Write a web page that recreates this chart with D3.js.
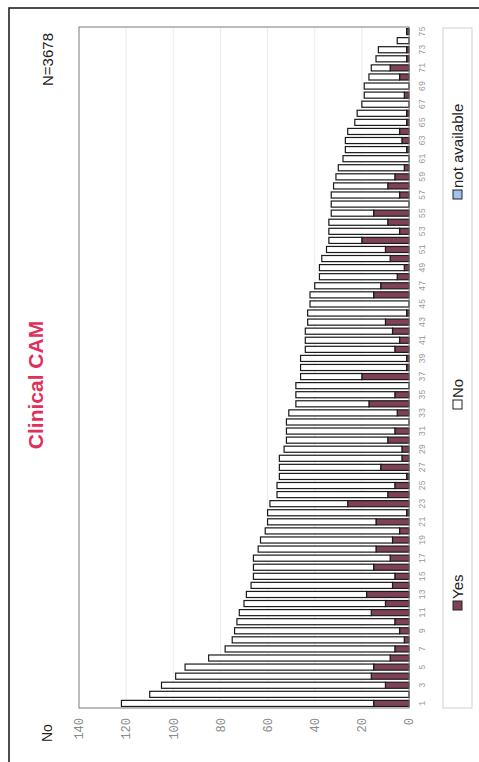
<!DOCTYPE html>
<html><head><meta charset="utf-8">
<script src="https://cdn.jsdelivr.net/npm/d3@7"></script>
<style>body{margin:0;background:#fff}svg{display:block}</style>
</head><body>
<script>
const categories = [1,2,3,4,5,6,7,8,9,10,11,12,13,14,15,16,17,18,19,20,21,22,23,24,25,26,27,28,29,30,31,32,33,34,35,36,37,38,39,40,41,42,43,44,45,46,47,48,49,50,51,52,53,54,55,56,57,58,59,60,61,62,63,64,65,66,67,68,69,70,71,72,73,74,75];
const yesValues = [15,0,10,16,15,8,6,2,4,6,16,10,18,7,6,15,8,14,7,4,14,1,26,9,6,1,12,3,3,9,6,0,5,17,6,0,20,1,1,6,4,7,10,1,0,15,12,5,2,8,10,20,4,9,15,0,4,9,6,2,0,1,3,4,1,1,0,2,0,4,8,1,1,0,1];
const noValues = [107,110,95,83,80,77,72,73,70,67,56,60,51,60,60,51,58,50,56,57,46,59,33,47,50,54,43,52,50,43,46,52,46,31,42,48,26,45,45,38,40,37,33,42,42,27,28,33,36,29,25,14,30,25,18,33,29,23,25,28,28,26,24,22,22,21,20,17,19,13,8,13,12,5,0];
const naValues = categories.map(() => 0);
const valueTicks = [0,20,40,60,80,100,120,140];
const seriesNames = ["Yes","No","not available"];
const seriesColors = ["#7e4157","#ffffff","#9fc3ee"];

const W = 479, H = 762;
const svg = d3.select("body").append("svg").attr("width", W).attr("height", H);
// outer frame
svg.append("rect").attr("x",9).attr("y",8).attr("width",600).attr("height",900)
  .attr("fill","none").attr("stroke","#222").attr("stroke-width",1.6);

// Chart drawn in unrotated coordinates (762 wide x 479 high), then rotated
const g = svg.append("g").attr("transform", `translate(0,${H}) rotate(-90)`);
const pl = 54, pr = 735, pt = 79, pb = 409;

const x = d3.scaleBand().domain(categories).range([pl, pr]).paddingInner(0.33).paddingOuter(0.17);
const y = d3.scaleLinear().domain([0,140]).range([pb, pt]);

// gridlines
g.append("g").selectAll("line").data(valueTicks.filter(v => v>0 && v<140)).join("line")
  .attr("x1", pl).attr("x2", pr).attr("y1", d => y(d)).attr("y2", d => y(d))
  .attr("stroke","#ececec").attr("stroke-width",1);

const stackData = categories.map((c,i) => ({cat:c, Yes:yesValues[i], No:noValues[i], "not available":naValues[i]}));
const stack = d3.stack().keys(seriesNames)(stackData);

g.append("g").selectAll("g").data(stack).join("g")
  .attr("fill", (d,i) => seriesColors[i])
  .selectAll("rect").data(d => d.filter(p => p[1]-p[0] > 0)).join("rect")
  .attr("x", d => x(d.data.cat))
  .attr("width", x.bandwidth())
  .attr("y", d => y(d[1]))
  .attr("height", d => y(d[0]) - y(d[1]))
  .attr("stroke","#1a1a1a").attr("stroke-width",1.2);

// plot frame
g.append("rect").attr("x",pl).attr("y",pt).attr("width",pr-pl).attr("height",pb-pt)
  .attr("fill","none").attr("stroke","#7a7a7a").attr("stroke-width",1);

// value axis
const yAxis = g.append("g").attr("transform",`translate(${pl},0)`)
  .call(d3.axisLeft(y).tickValues(valueTicks).tickSize(0).tickPadding(10));
yAxis.select(".domain").remove();
yAxis.selectAll("text").attr("font-family","'Liberation Mono', 'DejaVu Sans Mono', monospace")
  .attr("font-size",12).attr("fill","#8a8a8a");

// category axis (odd labels)
const xAxis = g.append("g").attr("transform",`translate(0,${pb})`)
  .call(d3.axisBottom(x).tickValues(categories.filter(c => c%2===1)).tickSize(0).tickPadding(10));
xAxis.select(".domain").remove();
xAxis.selectAll("text").attr("font-family","'Liberation Mono', 'DejaVu Sans Mono', monospace")
  .attr("font-size",8.5).attr("fill","#9a9a9a");

// titles
g.append("text").attr("x",377).attr("y",43).attr("text-anchor","middle")
  .attr("font-family","'Liberation Sans', Arial, sans-serif").attr("font-weight","bold")
  .attr("font-size",21).attr("fill","#e0305a").text("Clinical CAM");
g.append("text").attr("x",20).attr("y",52)
  .attr("font-family","'Liberation Sans', Arial, sans-serif")
  .attr("font-size",14).attr("fill","#222").text("No");
g.append("text").attr("x",729).attr("y",53).attr("text-anchor","end")
  .attr("font-family","'Liberation Sans', Arial, sans-serif")
  .attr("font-size",15).attr("fill","#222").text("N=3678");

// legend
g.append("rect").attr("x",54).attr("y",443).attr("width",680).attr("height",29)
  .attr("fill","#fff").attr("stroke","#cfcfcf").attr("stroke-width",1);
const legX = [152, 353, 563];
const leg = g.append("g").selectAll("g").data(seriesNames).join("g")
  .attr("transform",(d,i) => `translate(${legX[i]},453)`);
leg.append("rect").attr("width",9).attr("height",9).attr("fill",(d,i)=>seriesColors[i])
  .attr("stroke","#222").attr("stroke-width",1);
leg.append("text").attr("x",11).attr("y",9.5)
  .attr("font-family","'Liberation Sans', Arial, sans-serif")
  .attr("font-size",15).attr("fill","#222").text(d => d);
</script>
</body></html>
